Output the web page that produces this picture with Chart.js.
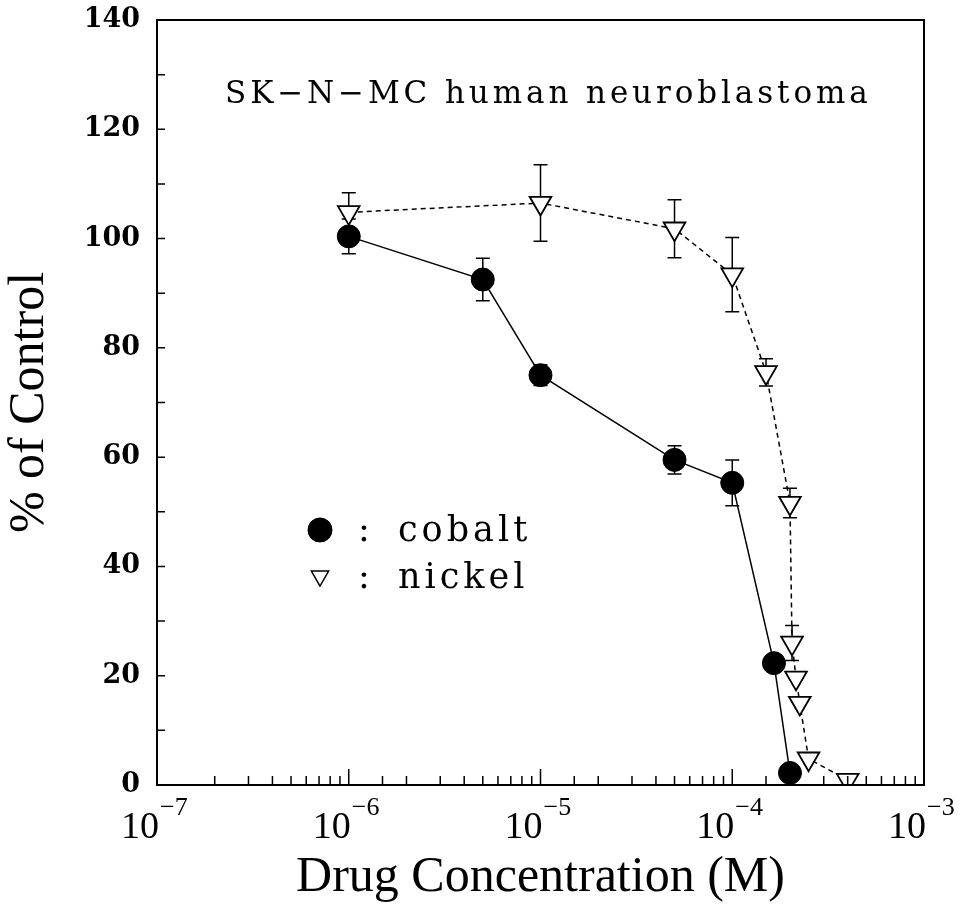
<!DOCTYPE html>
<html>
<head>
<meta charset="utf-8">
<script src="https://cdn.jsdelivr.net/npm/chart.js@4.4.0/dist/chart.umd.min.js"></script>
<style>
    html, body { margin: 0; padding: 0; background: #fff; }
</style>
</head>
<body>
<canvas id="chart" width="965" height="916"></canvas>
<script>
// Кобальт: концентрация (M), % от контроля, ошибка
const cobaltConc = [1e-6, 5e-6, 1e-5, 5e-5, 1e-4, 1.65e-4, 2e-4];
const cobaltPct = [100.4, 92.5, 75, 59.5, 55.3, 22.3, 2.2];
const cobaltErr = [3.2, 3.9, 1.9, 2.6, 4.2, 0, 0];

// Никель
const nickelConc = [1e-6, 1e-5, 5e-5, 1e-4, 1.5e-4, 2e-4, 2.05e-4, 2.15e-4, 2.25e-4, 2.5e-4, 4e-4];
const nickelPct = [104.8, 106.5, 101.8, 93.4, 75.5, 51.6, 26, 19.6, 15, 4.8, 0.9];
const nickelErr = [3.6, 7, 5.3, 6.8, 2.5, 2.7, 3.2, 0, 0, 0, 0];

// Подписи осей
const xDecades = [-7, -6, -5, -4, -3];
const yLabelTicks = [0, 20, 40, 60, 80, 100, 120, 140];

const SERIF = '"DejaVu Serif", serif';
const NARROW = '"Liberation Serif", serif';

const toPoints = (xs, ys) => xs.map((x, i) => ({ x: x, y: ys[i] }));

/**
 * Планки погрешностей (рисуются до маркеров)
 */
const errorBars = {
    id: 'errorBars',
    beforeDatasetsDraw(chart) {
        const { ctx, scales: { x, y } } = chart;
        ctx.save();
        ctx.strokeStyle = '#000';
        ctx.lineWidth = 1.5;
        chart.data.datasets.forEach(ds => {
            (ds.errors || []).forEach((err, i) => {
                if (!err) return;
                const pt = ds.data[i];
                const px = x.getPixelForValue(pt.x);
                const top = y.getPixelForValue(pt.y + err);
                const bot = y.getPixelForValue(pt.y - err);
                ctx.beginPath();
                ctx.moveTo(px, top); ctx.lineTo(px, bot);
                ctx.moveTo(px - 7, top); ctx.lineTo(px + 7, top);
                ctx.moveTo(px - 7, bot); ctx.lineTo(px + 7, bot);
                ctx.stroke();
            });
        });
        ctx.restore();
    }
};

/**
 * Рамка, внутренние риски и подписи 10^n
 */
const frame = {
    id: 'frame',
    afterDraw(chart) {
        const { ctx, chartArea: a, scales: { x, y } } = chart;
        ctx.save();
        ctx.strokeStyle = '#000';
        ctx.lineWidth = 2;
        ctx.strokeRect(a.left, a.top, a.right - a.left, a.bottom - a.top);

        ctx.lineWidth = 1.5;
        ctx.beginPath();
        y.ticks.forEach(t => {
            const py = y.getPixelForValue(t.value);
            ctx.moveTo(a.left, py);
            ctx.lineTo(a.left + 8, py);
        });
        x.ticks.forEach(t => {
            const lg = Math.log10(t.value);
            const major = Math.abs(lg - Math.round(lg)) < 1e-6;
            const px = x.getPixelForValue(t.value);
            ctx.moveTo(px, a.bottom);
            ctx.lineTo(px, a.bottom - (major ? 16 : 9));
        });
        ctx.stroke();

        ctx.fillStyle = '#000';
        ctx.textBaseline = 'alphabetic';
        xDecades.forEach(d => {
            const px = x.getPixelForValue(Math.pow(10, d));
            ctx.font = '38px ' + NARROW;
            ctx.textAlign = 'right';
            ctx.fillText('10', px + 2, a.bottom + 53);
            ctx.font = '26px ' + NARROW;
            ctx.textAlign = 'left';
            ctx.fillText('\u2212' + Math.abs(d), px + 3, a.bottom + 30);
        });
        ctx.restore();
    }
};

/**
 * Надпись внутри графика и легенда
 */
const annotations = {
    id: 'annotations',
    afterDraw(chart) {
        const { ctx, chartArea: a } = chart;
        ctx.save();
        ctx.fillStyle = '#000';
        ctx.textAlign = 'left';
        ctx.textBaseline = 'alphabetic';
        ctx.font = '31px ' + SERIF;
        ctx.letterSpacing = '3.9px';
        ctx.fillText('SK\u2212N\u2212MC human neuroblastoma', a.left + 68, a.top + 83);

        const cobalt = chart.data.datasets[0];
        const nickel = chart.data.datasets[1];
        const lx = a.left + 163;
        ctx.font = '35px ' + SERIF;
        ctx.letterSpacing = '4px';

        Chart.helpers.drawPoint(ctx, {
            pointStyle: cobalt.pointStyle, radius: 12, borderWidth: 1, rotation: 0
        }, lx, a.top + 510);
        ctx.fillStyle = '#000';
        ctx.fill();
        ctx.fillText(':', lx + 38, a.top + 521);
        ctx.fillText('cobalt', lx + 78, a.top + 521);

        ctx.fillStyle = '#fff';
        ctx.strokeStyle = '#000';
        ctx.lineWidth = 1.5;
        Chart.helpers.drawPoint(ctx, {
            pointStyle: nickel.pointStyle, radius: 10, borderWidth: 1.5, rotation: nickel.pointRotation
        }, lx, a.top + 556);
        ctx.fillStyle = '#000';
        ctx.fillText(':', lx + 38, a.top + 568);
        ctx.fillText('nickel', lx + 78, a.top + 568);
        ctx.restore();
    }
};

const ctx = document.getElementById('chart').getContext('2d');
new Chart(ctx, {
    type: 'line',
    data: {
        datasets: [{
            label: 'cobalt',
            data: toPoints(cobaltConc, cobaltPct),
            errors: cobaltErr,
            borderColor: '#000',
            borderWidth: 1.5,
            pointStyle: 'circle',
            pointRadius: 11.5,
            pointBackgroundColor: '#000',
            pointBorderColor: '#000',
            pointBorderWidth: 1,
            tension: 0,
            fill: false
        }, {
            label: 'nickel',
            data: toPoints(nickelConc, nickelPct),
            errors: nickelErr,
            borderColor: '#000',
            borderWidth: 1.5,
            borderDash: [5, 4],
            pointStyle: 'triangle',
            pointRotation: 180,
            pointRadius: 12.5,
            pointBackgroundColor: '#fff',
            pointBorderColor: '#000',
            pointBorderWidth: 1.8,
            tension: 0,
            fill: false
        }]
    },
    options: {
        responsive: false,
        animation: false,
        devicePixelRatio: 1,
        layout: { padding: { top: 20, right: 41, left: 0, bottom: 0 } },
        plugins: {
            legend: { display: false },
            tooltip: { enabled: false }
        },
        scales: {
            x: {
                type: 'logarithmic',
                min: 1e-7,
                max: 1e-3,
                grid: { display: false, drawTicks: false },
                border: { display: false },
                ticks: { display: false },
                title: {
                    display: true,
                    text: 'Drug Concentration (M)',
                    color: '#000',
                    font: { family: NARROW, size: 50 },
                    padding: { top: 0, bottom: 8 }
                },
                afterFit(scale) {
                    scale.height = 131;
                    scale.paddingLeft = 0;
                    scale.paddingRight = 0;
                }
            },
            y: {
                min: 0,
                max: 140,
                grid: { display: false, drawTicks: false },
                border: { display: false },
                ticks: {
                    stepSize: 10,
                    autoSkip: false,
                    padding: 17,
                    color: '#000',
                    font: { family: SERIF, size: 27, weight: '600' },
                    callback: v => yLabelTicks.includes(v) ? String(v) : ''
                },
                title: {
                    display: true,
                    text: '% of Control',
                    color: '#000',
                    font: { family: NARROW, size: 50 },
                    padding: { top: 0, bottom: 0 }
                },
                afterFit(scale) {
                    scale.width = 157;
                    scale.paddingTop = 0;
                    scale.paddingBottom = 0;
                }
            }
        }
    },
    plugins: [errorBars, frame, annotations]
});
</script>
</body>
</html>
